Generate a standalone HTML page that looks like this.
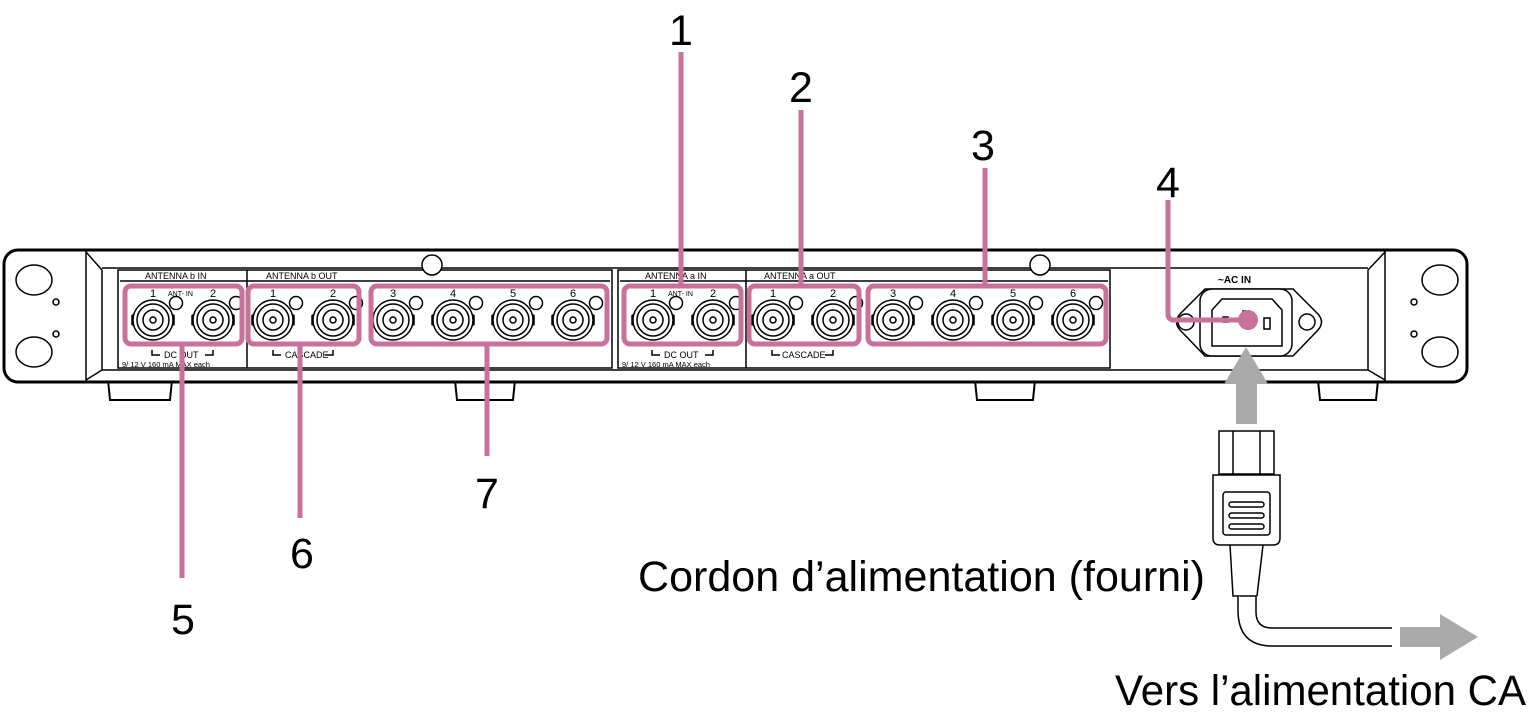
<!DOCTYPE html>
<html><head><meta charset="utf-8"><style>
html,body{margin:0;padding:0;background:#fff;}
svg{display:block;font-family:"Liberation Sans",sans-serif;}
</style></head><body>
<svg width="1530" height="720" viewBox="0 0 1530 720" xmlns="http://www.w3.org/2000/svg">
<defs>
<g id="bnc" fill="#fff" stroke="#000" stroke-width="1.5">
  <rect x="-21" y="-5" width="42" height="10" rx="1"/>
  <circle r="20"/>
  <circle r="16"/>
  <circle r="10"/>
  <circle r="3"/>
  <circle cx="23" cy="-17" r="6.5"/>
</g>
</defs>
<!-- feet -->
<g fill="#fff" stroke="#000" stroke-width="2">
<path d="M108 380 L110 400 L170 400 L172 380"/>
<path d="M455 380 L457 400 L513 400 L515 380"/>
<path d="M975 380 L977 400 L1033 400 L1035 380"/>
<path d="M1318 380 L1320 400 L1376 400 L1378 380"/>
</g>
<!-- chassis -->
<rect x="4" y="250" width="1463" height="132" rx="14" fill="#fff" stroke="#000" stroke-width="3"/>
<g fill="none" stroke="#000" stroke-width="1.5">
<line x1="86" y1="251" x2="86" y2="381"/>
<line x1="1385" y1="251" x2="1385" y2="381"/>
<path d="M86 252 L102 270 L102 370 L86 380"/>
<path d="M1385 252 L1368 270 L1368 370 L1385 380"/>
<line x1="102" y1="268" x2="1368" y2="268"/>
<line x1="102" y1="370" x2="1368" y2="370"/>
<rect x="118" y="270" width="494" height="98"/>
<line x1="247" y1="270" x2="247" y2="368"/>
<rect x="618" y="270" width="492" height="98"/>
<line x1="746" y1="270" x2="746" y2="368"/>
<line x1="120" y1="281" x2="610" y2="281"/>
<line x1="620" y1="281" x2="1108" y2="281"/>
<ellipse cx="34" cy="280" rx="18" ry="15"/>
<ellipse cx="34" cy="352" rx="18" ry="15"/>
<circle cx="56" cy="302" r="3"/><circle cx="56" cy="334" r="3"/>
<ellipse cx="1440" cy="280" rx="18" ry="15"/>
<ellipse cx="1440" cy="352" rx="18" ry="15"/>
<circle cx="1414" cy="302" r="3"/><circle cx="1414" cy="334" r="3"/>
</g>
<circle cx="432" cy="265" r="10" fill="#fff" stroke="#000" stroke-width="1.5"/>
<circle cx="1040" cy="265" r="10" fill="#fff" stroke="#000" stroke-width="1.5"/>
<g font-size="9" fill="#000">
<text x="145" y="279">ANTENNA b IN</text>
<text x="266" y="279">ANTENNA b OUT</text>
<text x="645" y="279">ANTENNA a IN</text>
<text x="764" y="279">ANTENNA a OUT</text>
<text x="150" y="297" font-size="11">1</text><text x="210" y="297" font-size="11">2</text>
<text x="168" y="296" font-size="7">ANT- IN</text>
<text x="270" y="297" font-size="11">1</text><text x="330" y="297" font-size="11">2</text>
<text x="390" y="297" font-size="11">3</text><text x="450" y="297" font-size="11">4</text>
<text x="510" y="297" font-size="11">5</text><text x="570" y="297" font-size="11">6</text>
<text x="650" y="297" font-size="11">1</text><text x="710" y="297" font-size="11">2</text>
<text x="668" y="296" font-size="7">ANT- IN</text>
<text x="770" y="297" font-size="11">1</text><text x="830" y="297" font-size="11">2</text>
<text x="890" y="297" font-size="11">3</text><text x="950" y="297" font-size="11">4</text>
<text x="1010" y="297" font-size="11">5</text><text x="1070" y="297" font-size="11">6</text>
<text x="164" y="358">DC OUT</text>
<text x="122" y="367" font-size="7.5">9/ 12 V 160 mA MAX each</text>
<text x="285" y="358">CASCADE</text>
<text x="664" y="358">DC OUT</text>
<text x="622" y="367" font-size="7.5">9/ 12 V 160 mA MAX each</text>
<text x="782" y="358">CASCADE</text>
<text x="1218" y="283" font-weight="bold" font-size="10">~AC IN</text>
</g>
<g fill="none" stroke="#000" stroke-width="1.5">
<path d="M152 350 v5 h8 M205 355 h8 v-5"/>
<path d="M273 350 v5 h8 M325 355 h8 v-5"/>
<path d="M652 350 v5 h8 M705 355 h8 v-5"/>
<path d="M772 350 v5 h8 M825 355 h8 v-5"/>
</g>
<use href="#bnc" x="153" y="320"/><use href="#bnc" x="213" y="320"/>
<use href="#bnc" x="273" y="320"/><use href="#bnc" x="333" y="320"/>
<use href="#bnc" x="393" y="320"/><use href="#bnc" x="453" y="320"/>
<use href="#bnc" x="513" y="320"/><use href="#bnc" x="573" y="320"/>
<use href="#bnc" x="653" y="320"/><use href="#bnc" x="713" y="320"/>
<use href="#bnc" x="773" y="320"/><use href="#bnc" x="833" y="320"/>
<use href="#bnc" x="893" y="320"/><use href="#bnc" x="953" y="320"/>
<use href="#bnc" x="1013" y="320"/><use href="#bnc" x="1073" y="320"/>
<g fill="#fff" stroke="#000" stroke-width="1.5">
<path d="M1205 289 L1293 289 L1318 314 Q1325 322 1318 330 L1293 356 L1205 356 L1180 330 Q1173 322 1180 314 Z"/>
<circle cx="1186" cy="322" r="8"/><circle cx="1307" cy="322" r="8"/>
<rect x="1200" y="289" width="92" height="67" rx="12"/>
<path d="M1222 299 L1272 299 L1282 310 L1282 346 L1212 346 L1212 310 Z"/>
<rect x="1223" y="317" width="5" height="5"/>
<rect x="1243" y="311" width="6" height="9"/>
<rect x="1264" y="318" width="6" height="11"/>
</g>
<g fill="#aaaaaa">
<polygon points="1246,347 1268,384 1257,384 1257,424 1236,424 1236,384 1224,384"/>
<polygon points="1400,627 1440,627 1440,614 1478,637 1440,660 1440,647 1400,647"/>
</g>
<g fill="#fff" stroke="#000" stroke-width="1.5">
<rect x="1219" y="431" width="55" height="43"/>
<line x1="1233" y1="431" x2="1233" y2="474"/><line x1="1260" y1="431" x2="1260" y2="474"/>
<path d="M1230 545 L1233 596 L1257 596 L1263 545"/>
<path d="M1238 596 L1238 610 Q1238 646 1272 646 L1392 646"/>
<path d="M1256 596 L1256 612 Q1256 628 1272 628 L1392 628"/>
<path d="M1213 475 L1280 475 L1280 538 Q1280 545 1273 545 L1220 545 Q1213 545 1213 538 Z"/>
<rect x="1223" y="492" width="47" height="43" rx="3"/>
<rect x="1229" y="502" width="35" height="5" rx="2.5"/>
<rect x="1229" y="513" width="35" height="5" rx="2.5"/>
<rect x="1229" y="524" width="35" height="5" rx="2.5"/>
</g>
<g fill="none" stroke="#c8719a" stroke-width="5">
<rect x="125" y="286" width="117" height="58" rx="6"/>
<rect x="248" y="286" width="111" height="58" rx="6"/>
<rect x="371" y="286" width="236" height="58" rx="6"/>
<rect x="624" y="286" width="117" height="58" rx="6"/>
<rect x="749" y="286" width="110" height="58" rx="6"/>
<rect x="868" y="286" width="238" height="58" rx="6"/>
<line x1="681" y1="52" x2="681" y2="286"/>
<line x1="801" y1="110" x2="801" y2="286"/>
<line x1="985" y1="168" x2="985" y2="286"/>
<path d="M1168 200 L1168 314 Q1168 320 1174 320 L1248 320"/>
<line x1="182" y1="344" x2="182" y2="578"/>
<line x1="300" y1="344" x2="300" y2="518"/>
<line x1="487" y1="344" x2="487" y2="456"/>
</g>
<circle cx="1248" cy="320" r="10" fill="#c8719a"/>
<g font-size="43" fill="#000" text-anchor="middle">
<text x="681" y="45">1</text>
<text x="801" y="102">2</text>
<text x="983" y="160">3</text>
<text x="1168" y="197">4</text>
<text x="183" y="634">5</text>
<text x="302" y="568">6</text>
<text x="487" y="508">7</text>
</g>
<g font-size="43" fill="#000">
<text x="638" y="591" textLength="567" lengthAdjust="spacingAndGlyphs">Cordon d’alimentation (fourni)</text>
<text x="1115" y="705" textLength="411" lengthAdjust="spacingAndGlyphs">Vers l’alimentation CA</text>
</g>
</svg>
</body></html>
